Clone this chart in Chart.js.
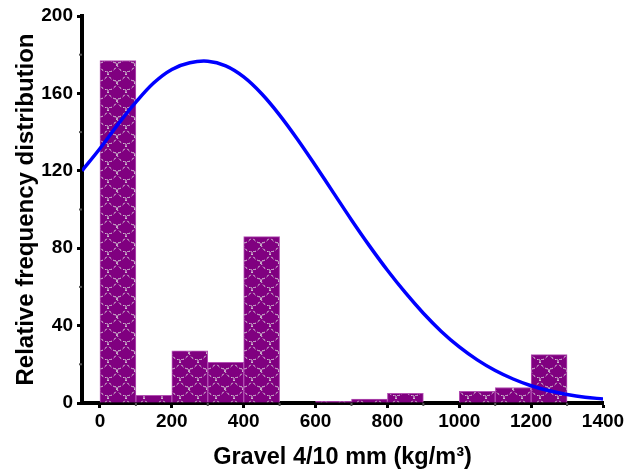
<!DOCTYPE html>
<html>
<head>
<meta charset="utf-8">
<script src="https://cdn.jsdelivr.net/npm/chart.js@4.4.1/dist/chart.umd.min.js"></script>
<style>
html, body { margin: 0; padding: 0; background: #fff; }
</style>
</head>
<body>
<canvas id="histChart" width="639" height="474"></canvas>
<script>
// histogram: 100 kg/m3 wide bins, value at the bin centre
var binCenters = [50, 150, 250, 350, 450, 550, 650, 750, 850, 950, 1050, 1150, 1250];
var binCounts  = [177, 4, 27, 21, 86, 0, 0.8, 2, 5, 0, 6, 8, 25];

// normal curve, values
var curveX = [-50, 0, 50, 100, 150, 200, 250, 300, 350, 400, 450, 500, 550, 600, 650,
              700, 750, 800, 850, 900, 950, 1000, 1050, 1100, 1150, 1200, 1250, 1300, 1350, 1400];
var curveY = [120, 131.5, 144, 155.5, 165.5, 172.4, 175.8, 176.6, 174.2, 168.5, 159.8, 148.8, 136.2, 122.6, 108.6,
              94.6, 81.2, 68.6, 57, 46.4, 37, 29, 22.3, 16.8, 12.4, 8.9, 6.3, 4.4, 3, 2.1];

var xTicks = [0, 200, 400, 600, 800, 1000, 1200, 1400];
var yTicks = [0, 40, 80, 120, 160, 200];
var xMinor = [100, 300, 500, 700, 900, 1100, 1300];
var yMinor = [20, 60, 100, 140, 180];

var fontFamily = '"Liberation Sans", Arial, sans-serif';

// purple fill with dashed "fish scale" lines
function scalePattern() {
    var t = document.createElement('canvas');
    t.width = 18; t.height = 18;
    var g = t.getContext('2d');
    g.fillStyle = '#800080';
    g.fillRect(0, 0, 18, 18);
    g.strokeStyle = '#dcdcdc';
    g.lineWidth = 1;
    g.setLineDash([3, 2]);
    g.beginPath(); g.arc(9, 0, 9, 0, Math.PI); g.stroke();
    g.beginPath(); g.arc(0, 9, 9, 0, Math.PI / 2); g.stroke();
    g.beginPath(); g.arc(18, 9, 9, Math.PI / 2, Math.PI); g.stroke();
    return g.createPattern(t, 'repeat');
}

var minorTicks = {
    id: 'minorTicks',
    afterDraw: function (chart) {
        var c = chart.ctx, xs = chart.scales.x, ys = chart.scales.y;
        c.save();
        c.strokeStyle = '#555';
        c.lineWidth = 2;
        yMinor.forEach(function (v) {
            var p = ys.getPixelForValue(v);
            c.beginPath(); c.moveTo(ys.right - 3, p); c.lineTo(ys.right, p); c.stroke();
        });
        xMinor.forEach(function (v) {
            var p = xs.getPixelForValue(v);
            c.beginPath(); c.moveTo(p, xs.top); c.lineTo(p, xs.top + 3); c.stroke();
        });
        c.restore();
    }
};

var ctx = document.getElementById('histChart').getContext('2d');
var histChart = new Chart(ctx, {
    type: 'bar',
    data: {
        datasets: [
            {
                type: 'line',
                data: curveX.map(function (x, i) { return { x: x, y: curveY[i] }; }),
                borderColor: '#0000ff',
                borderWidth: 3.5,
                pointRadius: 0,
                tension: 0.35,
                fill: false,
                order: 0
            },
            {
                type: 'bar',
                data: binCenters.map(function (x, i) { return { x: x, y: binCounts[i] }; }),
                backgroundColor: scalePattern(),
                borderColor: '#b24fb2',
                borderWidth: 1,
                barPercentage: 1,
                categoryPercentage: 1,
                order: 1
            }
        ]
    },
    options: {
        responsive: false,
        animation: false,
        layout: { padding: { left: 0, right: 36, top: 16, bottom: 0 } },
        plugins: { legend: { display: false }, tooltip: { enabled: false } },
        scales: {
            x: {
                type: 'linear',
                min: -50,
                max: 1400,
                offset: false,
                afterBuildTicks: function (s) { s.ticks = xTicks.map(function (v) { return { value: v }; }); },
                afterFit: function (s) { s.height = 71; },
                grid: { drawOnChartArea: false, offset: false, tickLength: 5, tickWidth: 3, tickColor: '#000' },
                border: { color: '#000', width: 4 },
                ticks: {
                    color: '#000', padding: 2, maxRotation: 0,
                    font: { family: fontFamily, size: 19, weight: 'bold' },
                    callback: function (v) { return String(v); }
                },
                title: {
                    display: true,
                    text: 'Gravel 4/10 mm (kg/m³)',
                    color: '#000',
                    padding: 2,
                    font: { family: fontFamily, size: 23.5, weight: 'bold' }
                }
            },
            y: {
                min: 0,
                max: 200,
                afterBuildTicks: function (s) { s.ticks = yTicks.map(function (v) { return { value: v }; }); },
                afterFit: function (s) { s.width = 82; },
                grid: { drawOnChartArea: false, tickLength: 5, tickWidth: 3, tickColor: '#000' },
                border: { color: '#000', width: 4 },
                ticks: {
                    color: '#000', padding: 4,
                    font: { family: fontFamily, size: 19, weight: 'bold' },
                    callback: function (v) { return String(v); }
                },
                title: {
                    display: true,
                    text: 'Relative frequency distribution',
                    color: '#000',
                    padding: 12,
                    font: { family: fontFamily, size: 24, weight: 'bold' }
                }
            }
        }
    },
    plugins: [minorTicks]
});
</script>
</body>
</html>
